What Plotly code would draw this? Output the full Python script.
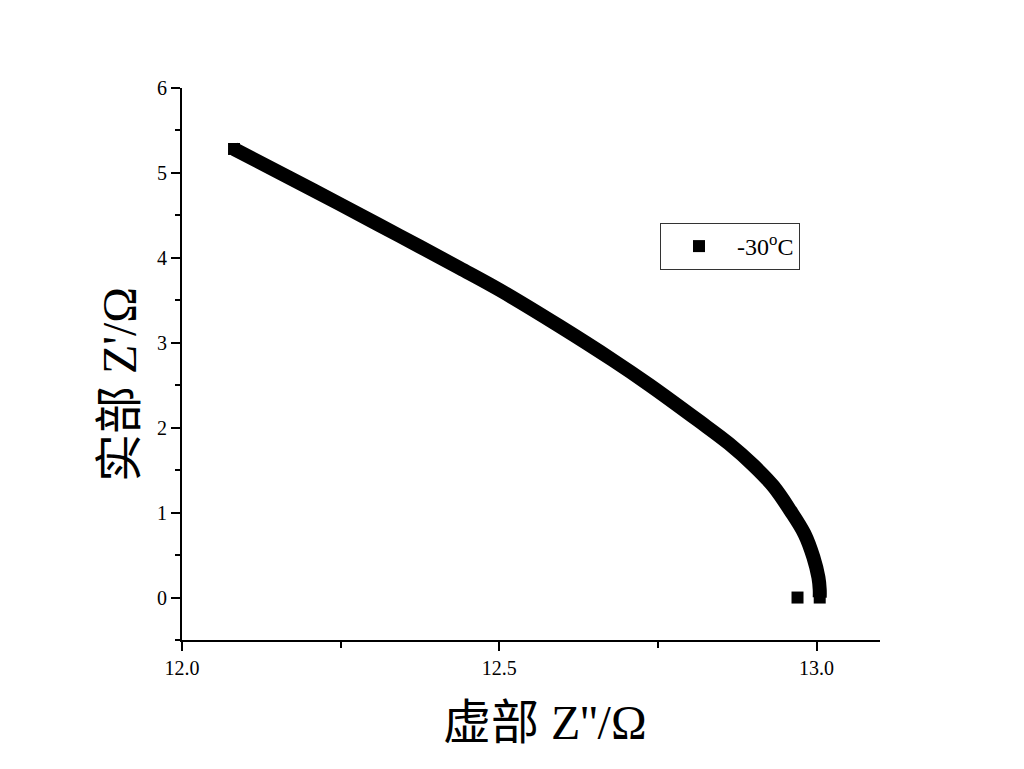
import plotly.graph_objects as go

curve_x = [12.082, 12.170, 12.248, 12.343, 12.437, 12.500, 12.594, 12.678, 12.736,
           12.814, 12.862, 12.901, 12.932, 12.959, 12.981, 12.995, 13.003, 13.005, 13.005]
curve_y = [5.282, 4.941, 4.635, 4.259, 3.882, 3.624, 3.200, 2.800, 2.506,
           2.082, 1.812, 1.553, 1.310, 1.020, 0.750, 0.475, 0.235, 0.094, 0.0]
# isolated first point
iso_x = [12.970]
iso_y = [0.0]

series_name = "-30<sup>o</sup>C"
x_ticks = [12.0, 12.5, 13.0]
x_ticklabels = ["12.0", "12.5", "13.0"]
y_ticks = [0, 1, 2, 3, 4, 5, 6]

SERIF = "Times New Roman, Liberation Serif, serif"
TITLE_FONT = "Times New Roman, Liberation Serif, Noto Sans CJK SC, serif"

fig = go.Figure()
# dense band of points drawn as a thick line through them
fig.add_trace(go.Scatter(x=curve_x, y=curve_y, mode="lines+markers",
                         line=dict(color="black", width=14, shape="spline", smoothing=1.0),
                         marker=dict(symbol="square", size=7, color="black", opacity=1),
                         showlegend=False, hoverinfo="skip"))
# full-size square markers: isolated point and the curve ends
fig.add_trace(go.Scatter(x=[iso_x[0], curve_x[0], curve_x[-1]],
                         y=[iso_y[0], curve_y[0], curve_y[-1]],
                         mode="markers",
                         marker=dict(symbol="square", size=12, color="black", opacity=1,
                                     line=dict(width=0)),
                         name=series_name))

axis_common = dict(showline=True, linecolor="black", linewidth=2, ticks="outside",
                   ticklen=9, tickwidth=2, tickcolor="black", showgrid=False,
                   zeroline=False, mirror=False,
                   tickfont=dict(family=SERIF, size=20, color="black"))

fig.update_xaxes(range=[12.0, 13.1], tickvals=x_ticks, ticktext=x_ticklabels,
                 minor=dict(ticks="outside", ticklen=6, tickwidth=2, tickcolor="black", dtick=0.25,
                            tick0=12.0, showgrid=False),
                 **axis_common)
fig.update_yaxes(range=[-0.5, 6.0], tickvals=y_ticks,
                 minor=dict(ticks="outside", ticklen=5, tickwidth=2, tickcolor="black", dtick=0.5,
                            tick0=0, showgrid=False),
                 **axis_common)

# reference plot area in page pixels
W, H = 1024, 769
pl, pr, pt, pb = 182, 144, 88, 129
pw, ph = W - pl - pr, H - pt - pb
OFF = 8  # page body margin offset

def to_paper(px, py):
    return (px - pl) / pw, (H - pb - py) / ph

xt = to_paper(545, 722)
yt = to_paper(119, 385)

fig.update_layout(
    width=W, height=H,
    margin=dict(l=pl - OFF, r=pr + OFF, t=pt - OFF, b=pb + OFF),
    paper_bgcolor="white", plot_bgcolor="white",
    showlegend=True,
    legend=dict(x=(660 - pl) / pw, y=(H - pb - 223) / ph, xanchor="left", yanchor="top",
                bordercolor="#333333", borderwidth=1, bgcolor="white",
                itemwidth=66, itemsizing="trace",
                font=dict(family=SERIF, size=24, color="black")),
    annotations=[
        dict(text="虚部 Z''/Ω", x=xt[0], y=xt[1], xref="paper", yref="paper",
             xanchor="center", yanchor="middle", showarrow=False,
             font=dict(family=TITLE_FONT, size=48, color="black")),
        dict(text="实部 Z'/Ω", x=yt[0], y=yt[1], xref="paper", yref="paper",
             xanchor="center", yanchor="middle", textangle=-90, showarrow=False,
             font=dict(family=TITLE_FONT, size=48, color="black")),
    ],
)
fig.write_html("out.html")
